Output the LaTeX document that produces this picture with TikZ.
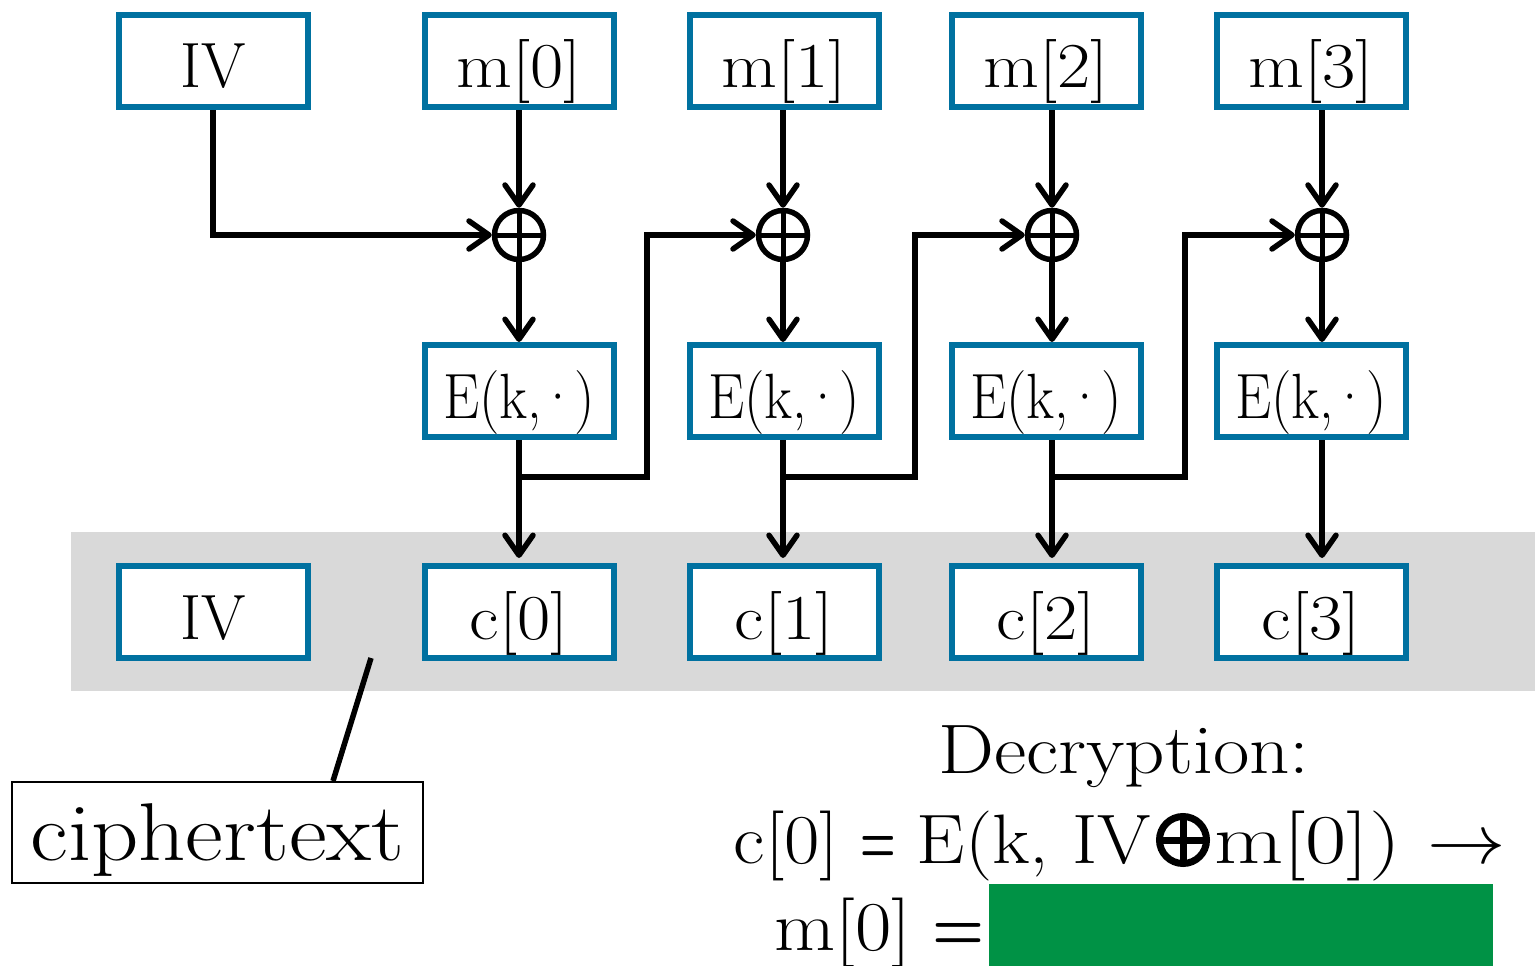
\RequirePackage{fix-cm}
\documentclass[tikz,border=0pt]{standalone}
\usepackage{graphicx}
\usetikzlibrary{arrows.meta,calc}
\definecolor{boxblue}{RGB}{0,113,160}
\definecolor{bandgray}{RGB}{217,217,217}
\definecolor{ansgreen}{RGB}{0,146,69}
\newcommand{\fsz}[1]{\fontsize{#1}{#1}\selectfont}
\newcommand{\hx}[1]{\scalebox{1.13}[1]{#1}}
\newcommand{\hy}[1]{\scalebox{1.1}[1]{#1}}
\newcommand{\eqs}{\scalebox{0.58}[1]{\textbf{=}}}
\newcommand{\enc}{\scalebox{0.9}[1]{E(k,\kern-5pt\textperiodcentered\kern-5pt)}}
\begin{document}
\begin{tikzpicture}[x=1pt,y=-1pt,
  blk/.style={draw=boxblue, line width=6pt, fill=white, minimum width=189pt, minimum height=92pt,
    inner sep=0pt, font=\fsz{64}, text height=54pt, text depth=0pt},
  xorc/.style={circle, draw, line width=5.5pt, minimum size=49pt, inner sep=0pt,
    path picture={\draw[line width=5pt] (path picture bounding box.north) -- (path picture bounding box.south)
      (path picture bounding box.west) -- (path picture bounding box.east);}},
  bigxor/.style={circle, draw, line width=7pt, minimum size=47pt, inner sep=0pt,
    path picture={\draw[line width=7pt] (path picture bounding box.north) -- (path picture bounding box.south)
      (path picture bounding box.west) -- (path picture bounding box.east);}},
  wire/.style={line width=5.5pt},
  arr/.style={wire, -{Straight Barb[length=20pt,width=28pt,round]}},
  eqtext/.style={inner sep=0pt, font=\fsz{70}}
]
\useasboundingbox (0,0) rectangle (1535,966);
\fill[bandgray] (71,532) rectangle (1535,691);

% top row
\node[blk] (iv) at (213,61) {IV};
\node[blk] (m0) at (519,61) {\hx{m[0]}};
\node[blk] (m1) at (784,61) {\hx{m[1]}};
\node[blk] (m2) at (1046,61) {\hx{m[2]}};
\node[blk] (m3) at (1311,61) {\hx{m[3]}};

% xor
\node[xorc] (x0) at (519,235) {};
\node[xorc] (x1) at (783,235) {};
\node[xorc] (x2) at (1052,235) {};
\node[xorc] (x3) at (1322,235) {};

% encryption boxes
\node[blk] (e0) at (519,391) {\enc};
\node[blk] (e1) at (784,391) {\enc};
\node[blk] (e2) at (1046,391) {\enc};
\node[blk] (e3) at (1311,391) {\enc};

% ciphertext row
\node[blk] (iv2) at (213,612) {IV};
\node[blk] (c0) at (519,612) {\hx{c[0]}};
\node[blk] (c1) at (784,612) {\hx{c[1]}};
\node[blk] (c2) at (1046,612) {\hx{c[2]}};
\node[blk] (c3) at (1311,612) {\hx{c[3]}};

% junctions
\coordinate (j0) at (519,477);  \coordinate (b0) at (647,477);
\coordinate (j1) at (783,477);  \coordinate (b1) at (915,477);
\coordinate (j2) at (1052,477); \coordinate (b2) at (1185,477);

\draw[arr] (iv.south) |- (x0.west);
\foreach \i in {0,...,3}{
  \draw[arr] (x\i |- m\i.south) -- (x\i.north);
  \draw[arr] (x\i.south) -- (x\i |- e\i.north);
  \draw[arr] (x\i |- e\i.south) -- ($(x\i |- c\i.north)+(0,-5)$);
}
\draw[arr] (j0) -- (b0) |- (x1.west);
\draw[arr] (j1) -- (b1) |- (x2.west);
\draw[arr] (j2) -- (b2) |- (x3.west);

% ciphertext label
\coordinate (cl) at (371,658);
\node[draw, line width=2pt, minimum width=411pt, minimum height=101pt, inner sep=0pt,
  font=\fsz{82}, text depth=0pt] (ct) at (217.5,832.5) {\hx{ciphertext}};
\draw[wire] (cl) -- ($(ct.north)+(115.5,0)$);

% decryption text
\node[eqtext, anchor=base] (dec) at (1124,773) {\hx{Decryption:}};
\node[bigxor] (dx) at (1183,840) {};
\node[eqtext, anchor=base east] (d2a) at (1151,863) {\hy{c[0]} \eqs{} \hy{E(k, IV}};
\node[eqtext, anchor=base west] (d2b) at (1214,863) {\scalebox{1.28}[1]{m[0])}\hspace{26pt}\scalebox{1.12}[1]{$\rightarrow$}};
\node[eqtext, anchor=base east] (d3) at (985,950) {\hx{m[0]} \scalebox{0.85}[1]{\textbf{=}}};
\node[fill=ansgreen, minimum width=504pt, minimum height=82pt, inner sep=0pt] (ans) at (1241,925) {};
\end{tikzpicture}
\end{document}
